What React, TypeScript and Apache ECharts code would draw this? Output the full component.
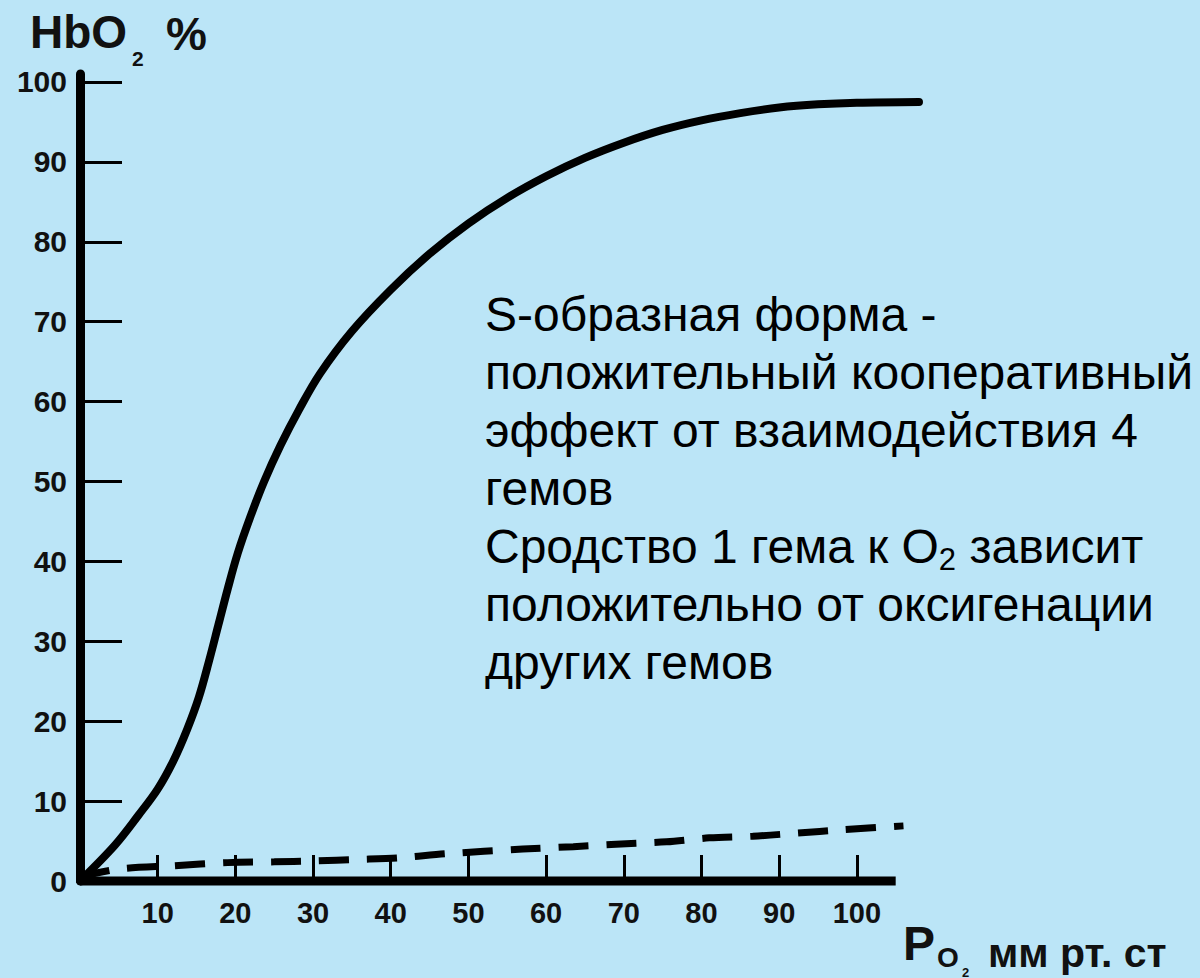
import React, { useEffect, useRef } from "react";
import * as echarts from "echarts";

// ---- data ----
const xTickValues = [10, 20, 30, 40, 50, 60, 70, 80, 90, 100];
const yLabelValues = [0, 10, 20, 30, 40, 50, 60, 70, 80, 90, 100];
const yTickValues = [10, 20, 30, 40, 50, 60, 70, 80, 90, 100];
const xAxisLineEnd = 105; // the drawn x axis stops at ~105 mm

// Hemoglobin O2 saturation curve (PO2 mm Hg, HbO2 %)
const hbCurve: [number, number][] = [
  [0, 0], [4.5, 4.5], [7.5, 8.2], [10, 11.5], [12, 15], [13.8, 19],
  [15.3, 23], [16.6, 27.5], [17.8, 32], [19, 36.5], [20.3, 41], [21.9, 45.5],
  [23.7, 50], [25.8, 54.5], [28.2, 59], [30.9, 63.5], [35, 68.8], [40, 74],
  [45, 78.5], [50, 82.3], [55, 85.5], [60, 88.2], [65, 90.5], [70, 92.4],
  [75, 94], [80, 95.2], [85, 96.1], [90, 96.8], [95, 97.2], [100, 97.4],
  [108, 97.5],
];

// Dashed near-linear curve
const dashedCurve: [number, number][] = [
  [0, 0.5], [5, 1.5], [12, 1.9], [19, 2.3], [25, 2.4], [30, 2.5], [36, 2.7],
  [41, 2.9], [47, 3.4], [57, 4.0], [63.5, 4.3], [69, 4.6], [75.5, 4.9],
  [81, 5.4], [86.6, 5.6], [92.4, 6.0], [98, 6.4], [106, 6.9],
];

const annotationLines = [
  "S-образная форма -",
  "положительный кооперативный",
  "эффект от взаимодействия 4",
  "гемов",
  "Сродство 1 гема к O{sub|2} зависит",
  "положительно от оксигенации",
  "других гемов",
];

const FONT = "'Liberation Sans', Arial, Helvetica, sans-serif";

export default function App() {
  const ref = useRef<HTMLDivElement>(null);

  useEffect(() => {
    if (!ref.current) return;
    const chart = echarts.init(ref.current, undefined, { renderer: "svg" });
    const option: any = {
      animation: false,
      backgroundColor: "#bbe5f7",
      grid: { left: 80, right: 281, top: 74, bottom: 97 },
      xAxis: {
        type: "value",
        min: 0,
        max: 108,
        splitLine: { show: false },
        axisLine: { show: false },
        axisTick: {
          show: true,
          inside: true,
          length: 26,
          customValues: xTickValues,
          lineStyle: { color: "#000", width: 3 },
        },
        axisLabel: {
          customValues: xTickValues,
          fontSize: 29,
          fontWeight: "bold",
          fontFamily: FONT,
          color: "#111",
          margin: 17,
        },
      },
      yAxis: {
        type: "value",
        min: 0,
        max: 101,
        splitLine: { show: false },
        axisLine: { show: true, onZero: false, lineStyle: { color: "#000", width: 9 } },
        axisTick: {
          show: true,
          inside: true,
          length: 42,
          customValues: yTickValues,
          lineStyle: { color: "#000", width: 3 },
        },
        axisLabel: {
          customValues: yLabelValues,
          fontSize: 30,
          fontWeight: "bold",
          fontFamily: FONT,
          color: "#111",
          margin: 13,
        },
      },
      series: [
        {
          type: "line",
          data: hbCurve,
          smooth: 0.35,
          clip: false,
          showSymbol: false,
          symbol: "none",
          lineStyle: { color: "#000", width: 8, cap: "round" },
        },
        {
          type: "line",
          data: dashedCurve,
          smooth: 0.3,
          clip: false,
          showSymbol: false,
          symbol: "none",
          lineStyle: { color: "#000", width: 7, type: [30, 18] },
        },
        {
          type: "line",
          data: [[0, 0], [xAxisLineEnd, 0]],
          clip: false,
          showSymbol: false,
          symbol: "none",
          lineStyle: { color: "#000", width: 9, cap: "butt" },
        },
      ],
      graphic: [
        {
          type: "text",
          x: 485,
          y: 285,
          style: {
            text: annotationLines.join("\n"),
            fontSize: 48,
            fontFamily: FONT,
            fill: "#000",
            lineHeight: 58,
            align: "left",
            verticalAlign: "top",
            rich: {
              sub: { fontSize: 31, fontFamily: FONT, fill: "#000", lineHeight: 24, verticalAlign: "bottom" },
            },
          },
        },
        { type: "text", x: 30, y: 32, style: { text: "HbO", fontSize: 46, fontWeight: "bold", fontFamily: FONT, fill: "#111", align: "left", verticalAlign: "middle" } },
        { type: "text", x: 132, y: 58, style: { text: "2", fontSize: 21, fontWeight: "bold", fontFamily: FONT, fill: "#111", align: "left", verticalAlign: "middle" } },
        { type: "text", x: 166, y: 34, style: { text: "%", fontSize: 46, fontWeight: "bold", fontFamily: FONT, fill: "#111", align: "left", verticalAlign: "middle" } },
        { type: "text", x: 903, y: 943, style: { text: "P", fontSize: 48, fontWeight: "bold", fontFamily: FONT, fill: "#111", align: "left", verticalAlign: "middle" } },
        { type: "text", x: 937, y: 957, style: { text: "O", fontSize: 28, fontWeight: "bold", fontFamily: FONT, fill: "#111", align: "left", verticalAlign: "middle" } },
        { type: "text", x: 962, y: 972, style: { text: "2", fontSize: 13, fontWeight: "bold", fontFamily: FONT, fill: "#111", align: "left", verticalAlign: "middle" } },
        { type: "text", x: 988, y: 953, style: { text: "мм рт. ст", fontSize: 41, fontWeight: "bold", fontFamily: FONT, fill: "#111", align: "left", verticalAlign: "middle" } },
      ],
    };
    chart.setOption(option);
    return () => chart.dispose();
  }, []);

  return (
    <div
      ref={ref}
      style={{ position: "absolute", left: 0, top: 0, width: 1200, height: 978 }}
    />
  );
}
